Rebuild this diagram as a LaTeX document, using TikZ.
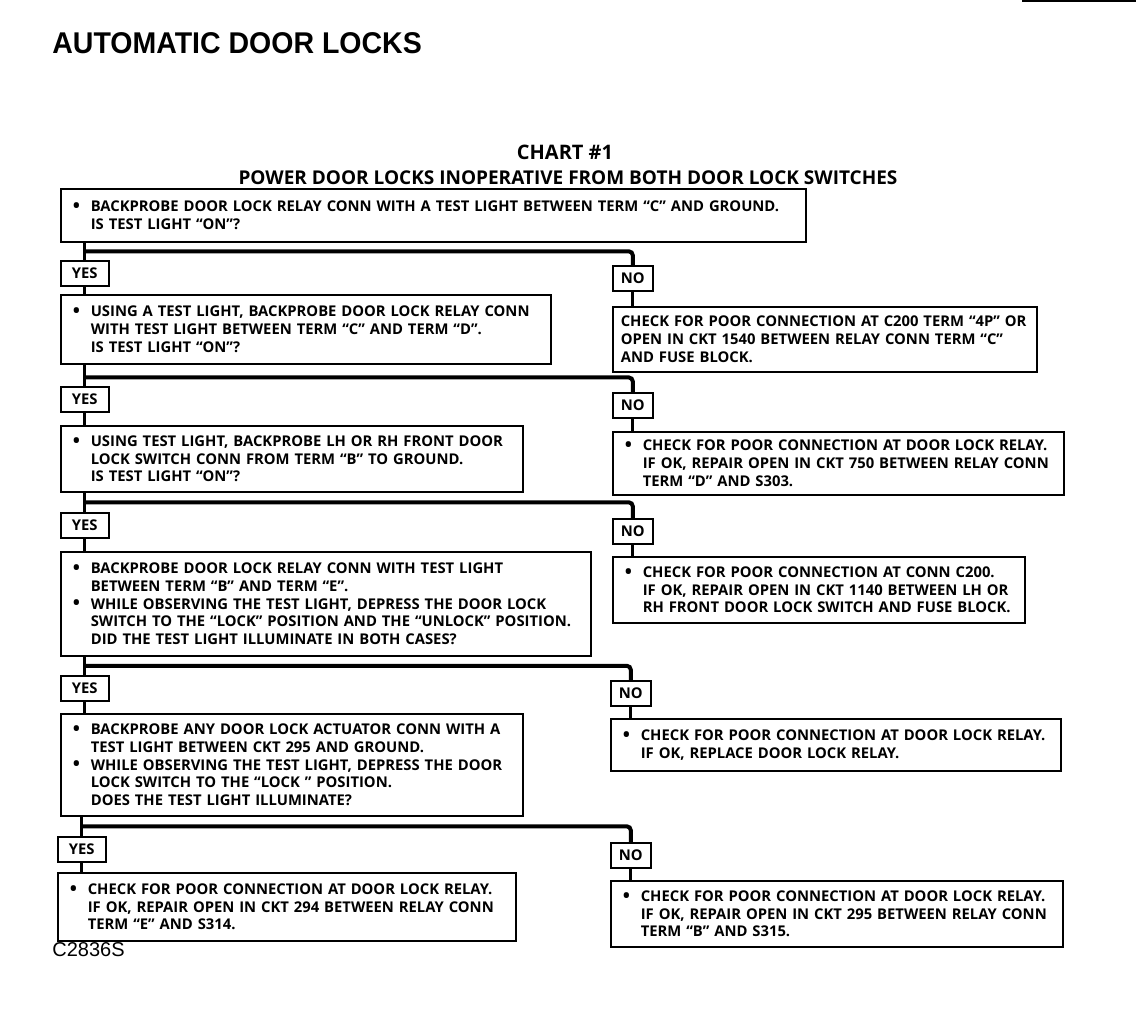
\documentclass[tikz,border=0pt]{standalone}
\usepackage{fontspec}
\setmainfont{Open Sans}
\newfontfamily\titlefont[FakeStretch=0.95]{Liberation Sans}
\newfontfamily\codefont{Liberation Sans}
\usetikzlibrary{positioning, calc}

\newcommand{\bul}{\makebox[9pt][l]{\raisebox{-0.4pt}{\fontsize{9.5}{9}\selectfont\textbullet}}}
\newcommand{\ind}{\hspace*{9pt}}

\begin{document}
\begin{tikzpicture}[
    x=0.5pt, y=-0.5pt,
    font=\fontsize{7.4}{8.8}\selectfont\bfseries,
    chk/.style 2 args={draw, line width=0.8pt, anchor=north west, align=left,
                       inner xsep=6pt, inner ysep=2pt, text width=#1,
                       minimum height=#2},
    ans/.style={draw, line width=0.8pt, anchor=north west, inner sep=0pt,
                minimum height=12.5pt, minimum width=#1},
    stem/.style={line width=1.5pt},
    bar/.style={line width=2pt, rounded corners=2pt}
  ]
    \useasboundingbox (0,0) rectangle (1136,1024);
    \draw[line width=1pt] (1022,1) -- (1136,1);

    % headings
    \node[anchor=base west, inner sep=0pt,
          font=\titlefont\fontsize{15}{15}\selectfont\bfseries]
      (title) at (52,53) {AUTOMATIC DOOR LOCKS};
    \node[font=\fontsize{10}{10}\selectfont\bfseries] (chart) at (565,152) {CHART \#1};
    \node[font=\fontsize{9.5}{9.5}\selectfont\bfseries] (sub) at (568,178)
      {POWER DOOR LOCKS INOPERATIVE FROM BOTH DOOR LOCK SWITCHES};

    % left column: checks
    \node[chk={360.5pt}{26.5pt}] (q1) at (60,188)
      {\bul BACKPROBE DOOR LOCK RELAY CONN WITH A TEST LIGHT BETWEEN TERM “C” AND GROUND.\\
       \ind IS TEST LIGHT “ON”?};
    \node[chk={233pt}{34.5pt}] (q2) at (60,294)
      {\bul USING A TEST LIGHT, BACKPROBE DOOR LOCK RELAY CONN\\
       \ind WITH TEST LIGHT BETWEEN TERM “C” AND TERM “D”.\\
       \ind IS TEST LIGHT “ON”?};
    \node[chk={219pt}{33pt}] (q3) at (60,425)
      {\bul USING TEST LIGHT, BACKPROBE LH OR RH FRONT DOOR\\
       \ind LOCK SWITCH CONN FROM TERM “B” TO GROUND.\\
       \ind IS TEST LIGHT “ON”?};
    \node[chk={253pt}{52pt}] (q4) at (60,551)
      {\bul BACKPROBE DOOR LOCK RELAY CONN WITH TEST LIGHT\\
       \ind BETWEEN TERM “B” AND TERM “E”.\\
       \bul WHILE OBSERVING THE TEST LIGHT, DEPRESS THE DOOR LOCK\\
       \ind SWITCH TO THE “LOCK” POSITION AND THE “UNLOCK” POSITION.\\
       \ind DID THE TEST LIGHT ILLUMINATE IN BOTH CASES?};
    \node[chk={219pt}{51pt}] (q5) at (60,713)
      {\bul BACKPROBE ANY DOOR LOCK ACTUATOR CONN WITH A\\
       \ind TEST LIGHT BETWEEN CKT 295 AND GROUND.\\
       \bul WHILE OBSERVING THE TEST LIGHT, DEPRESS THE DOOR\\
       \ind LOCK SWITCH TO THE “LOCK ” POSITION.\\
       \ind DOES THE TEST LIGHT ILLUMINATE?};
    \node[chk={217pt}{34pt}] (q6) at (57,872)
      {\bul CHECK FOR POOR CONNECTION AT DOOR LOCK RELAY.\\
       \ind IF OK, REPAIR OPEN IN CKT 294 BETWEEN RELAY CONN\\
       \ind TERM “E” AND S314.};

    % right column: repairs
    \node[chk={204pt}{32.5pt}, inner xsep=4pt] (r1) at (612,306)
      {CHECK FOR POOR CONNECTION AT C200 TERM “4P” OR\\
       OPEN IN CKT 1540 BETWEEN RELAY CONN TERM “C”\\
       AND FUSE BLOCK.};
    \node[chk={213.5pt}{31.5pt}] (r2) at (612,431)
      {\bul CHECK FOR POOR CONNECTION AT DOOR LOCK RELAY.\\
       \ind IF OK, REPAIR OPEN IN CKT 750 BETWEEN RELAY CONN\\
       \ind TERM “D” AND S303.};
    \node[chk={194pt}{33pt}] (r3) at (612,556)
      {\bul CHECK FOR POOR CONNECTION AT CONN C200.\\
       \ind IF OK, REPAIR OPEN IN CKT 1140 BETWEEN LH OR\\
       \ind RH FRONT DOOR LOCK SWITCH AND FUSE BLOCK.};
    \node[chk={213pt}{26pt}] (r4) at (610,718)
      {\bul CHECK FOR POOR CONNECTION AT DOOR LOCK RELAY.\\
       \ind IF OK, REPLACE DOOR LOCK RELAY.};
    \node[chk={214pt}{33pt}] (r5) at (610,880)
      {\bul CHECK FOR POOR CONNECTION AT DOOR LOCK RELAY.\\
       \ind IF OK, REPAIR OPEN IN CKT 295 BETWEEN RELAY CONN\\
       \ind TERM “B” AND S315.};

    % yes / no tags
    \node[ans=24pt] (y1) at (60,260) {YES};
    \node[ans=24pt] (y2) at (60,386) {YES};
    \node[ans=24pt] (y3) at (60,512) {YES};
    \node[ans=24pt] (y4) at (60,675) {YES};
    \node[ans=24pt] (y5) at (57,836) {YES};
    \node[ans=20pt] (n1) at (612,265) {NO};
    \node[ans=20pt] (n2) at (612,392) {NO};
    \node[ans=20pt] (n3) at (612,518) {NO};
    \node[ans=20pt] (n4) at (610,680) {NO};
    \node[ans=20pt] (n5) at (610,842) {NO};

    % branches
    \draw[stem] (y1.north |- q1.south) -- (y1.north) (y1.south) -- (y1.south |- q2.north)
                (n1.south) -- (n1.south |- r1.north);
    \draw[bar] ($(y1.north |- q1.south)!0.5!(y1.north)$) -| (n1.north);
    \draw[stem] (y2.north |- q2.south) -- (y2.north) (y2.south) -- (y2.south |- q3.north)
                (n2.south) -- (n2.south |- r2.north);
    \draw[bar] ($(y2.north |- q2.south)!0.6!(y2.north)$) -| (n2.north);
    \draw[stem] (y3.north |- q3.south) -- (y3.north) (y3.south) -- (y3.south |- q4.north)
                (n3.south) -- (n3.south |- r3.north);
    \draw[bar] ($(y3.north |- q3.south)!0.5!(y3.north)$) -| (n3.north);
    \draw[stem] (y4.north |- q4.south) -- (y4.north) (y4.south) -- (y4.south |- q5.north)
                (n4.south) -- (n4.south |- r4.north);
    \draw[bar] ($(y4.north |- q4.south)!0.5!(y4.north)$) -| (n4.north);
    \draw[stem] (y5.north |- q5.south) -- (y5.north) (y5.south) -- (y5.south |- q6.north)
                (n5.south) -- (n5.south |- r5.north);
    \draw[bar] ($(y5.north |- q5.south)!0.5!(y5.north)$) -| (n5.north);

    \node[anchor=base west, inner sep=0pt, font=\codefont\fontsize{10}{10}\selectfont]
      (code) at (52,956) {C2836S};
  \end{tikzpicture}
\end{document}
